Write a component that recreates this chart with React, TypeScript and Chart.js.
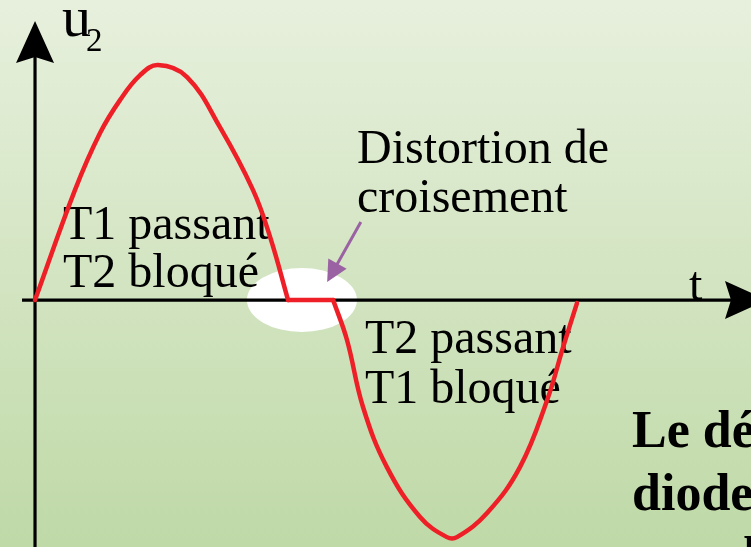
import React, { useEffect, useRef } from "react";
import { Chart, registerables } from "chart.js";

Chart.register(...registerables);

// time in ms, u2 in volts
const timeMs = [0, 1.47, 2.39, 3.13, 3.87, 4.53, 5.6, 6.81, 8.03, 8.66, 9.32, 10.98, 11.49, 12.08, 12.96, 14.18, 15.17, 15.54, 16.65, 17.86, 18.86, 19.45, 19.96];
const u2Volts = [0, 4.68, 7.1, 8.51, 9.57, 10.0, 9.49, 7.36, 4.68, 2.68, 0, 0, -1.7, -4.55, -7.11, -9.23, -10.09, -10.09, -9.06, -7.11, -4.26, -2.0, -0.13];
// index ranges: T1 conducting, dead zone, T2 conducting
const segmentStarts = [0, 10, 11];
const segmentEnds = [10, 11, 22];

const xRange = [-1.29, 26.37];
const yRange = [-10.51, 12.77];

// annotation texts and their anchor points (data units)
const labelTexts = ["Distortion de", "croisement", "T1 passant", "T2 bloqué", "T2 passant", "T1 bloqué"];
const labelT = [11.86, 11.86, 1.03, 1.03, 12.15, 12.15];
const labelU = [5.83, 3.74, 2.6, 0.55, -2.26, -4.38];

const noteTexts = ["Le défaut est dû", "diodes base-émetteur", "avec les transistors"];
const noteT = [21.99, 21.99, 21.99];
const noteU = [-6.26, -8.94, -11.62];

const distortionCenter = { t: 9.83, u: 0 };
const arrowFrom = { t: 12.0, u: 3.32 };
const arrowTo = { t: 10.76, u: 0.77 };

const decor = {
  id: "decor",
  beforeDatasetsDraw(chart: any) {
    const { ctx, width, height } = chart;
    const xs = chart.scales.x;
    const ys = chart.scales.y;
    const X = (t: number) => xs.getPixelForValue(t);
    const Y = (u: number) => ys.getPixelForValue(u);
    ctx.save();
    const g = ctx.createLinearGradient(0, 0, 0, height);
    g.addColorStop(0, "#e7f0dd");
    g.addColorStop(1, "#bfd9a7");
    ctx.fillStyle = g;
    ctx.fillRect(0, 0, width, height);

    ctx.fillStyle = "#ffffff";
    ctx.beginPath();
    ctx.ellipse(X(distortionCenter.t), Y(distortionCenter.u), 55, 32, 0, 0, Math.PI * 2);
    ctx.fill();

    const x0 = X(0);
    const y0 = Y(0);
    ctx.strokeStyle = "#000";
    ctx.fillStyle = "#000";
    ctx.lineWidth = 3.2;
    ctx.beginPath();
    ctx.moveTo(x0, height);
    ctx.lineTo(x0, 50);
    ctx.stroke();
    ctx.beginPath();
    ctx.moveTo(x0 - 13, y0);
    ctx.lineTo(740, y0);
    ctx.stroke();
    ctx.beginPath();
    ctx.moveTo(x0, 21);
    ctx.lineTo(x0 + 19, 63);
    ctx.lineTo(x0, 57);
    ctx.lineTo(x0 - 19, 63);
    ctx.closePath();
    ctx.fill();
    ctx.beginPath();
    ctx.moveTo(767, y0);
    ctx.lineTo(725, y0 - 19);
    ctx.lineTo(731, y0);
    ctx.lineTo(725, y0 + 19);
    ctx.closePath();
    ctx.fill();

    ctx.textBaseline = "alphabetic";
    ctx.textAlign = "left";
    ctx.font = '58px "Liberation Serif"';
    ctx.fillText("u", x0 + 27, 36);
    ctx.font = '33px "Liberation Serif"';
    ctx.fillText("2", x0 + 51, 51);
    ctx.font = '48px "Liberation Serif"';
    ctx.fillText("t", 689, y0);

    const ax = X(arrowFrom.t), ay = Y(arrowFrom.u);
    const bx = X(arrowTo.t), by = Y(arrowTo.u);
    const ang = Math.atan2(by - ay, bx - ax);
    const hl = 21, hw = 10.5;
    ctx.strokeStyle = "#9b62a3";
    ctx.fillStyle = "#9b62a3";
    ctx.lineWidth = 3;
    ctx.beginPath();
    ctx.moveTo(ax, ay);
    ctx.lineTo(bx - Math.cos(ang) * hl * 0.8, by - Math.sin(ang) * hl * 0.8);
    ctx.stroke();
    const bxm = bx - Math.cos(ang) * hl, bym = by - Math.sin(ang) * hl;
    ctx.beginPath();
    ctx.moveTo(bx, by);
    ctx.lineTo(bxm + Math.cos(ang + Math.PI / 2) * hw, bym + Math.sin(ang + Math.PI / 2) * hw);
    ctx.lineTo(bxm - Math.cos(ang + Math.PI / 2) * hw, bym - Math.sin(ang + Math.PI / 2) * hw);
    ctx.closePath();
    ctx.fill();

    ctx.fillStyle = "#000";
    ctx.font = '48px "Liberation Serif"';
    labelTexts.forEach((s, i) => ctx.fillText(s, X(labelT[i]), Y(labelU[i])));
    ctx.font = 'bold 52px "Liberation Serif"';
    noteTexts.forEach((s, i) => ctx.fillText(s, X(noteT[i]), Y(noteU[i])));
    ctx.restore();
  },
};

export default function App() {
  const ref = useRef<HTMLCanvasElement>(null);
  useEffect(() => {
    if (!ref.current) return;
    const datasets = segmentStarts.map((s, k) => ({
      data: timeMs.slice(s, segmentEnds[k] + 1).map((t, i) => ({ x: t, y: u2Volts[s + i] })),
      borderColor: "#ee1f26",
      borderWidth: 4.5,
      pointRadius: 0,
      tension: 0.4,
      fill: false,
      borderJoinStyle: "round" as const,
      borderCapStyle: "round" as const,
    }));
    const chart = new Chart(ref.current, {
      type: "line",
      data: { datasets },
      options: {
        responsive: false,
        animation: false,
        layout: { padding: 0 },
        plugins: { legend: { display: false }, tooltip: { enabled: false } },
        scales: {
          x: { type: "linear", min: xRange[0], max: xRange[1], display: false },
          y: { type: "linear", min: yRange[0], max: yRange[1], display: false },
        },
      },
      plugins: [decor],
    });
    return () => chart.destroy();
  }, []);
  return (
    <div style={{ position: "fixed", left: 0, top: 0, width: 751, height: 547 }}>
      <canvas ref={ref} width={751} height={547} />
    </div>
  );
}
